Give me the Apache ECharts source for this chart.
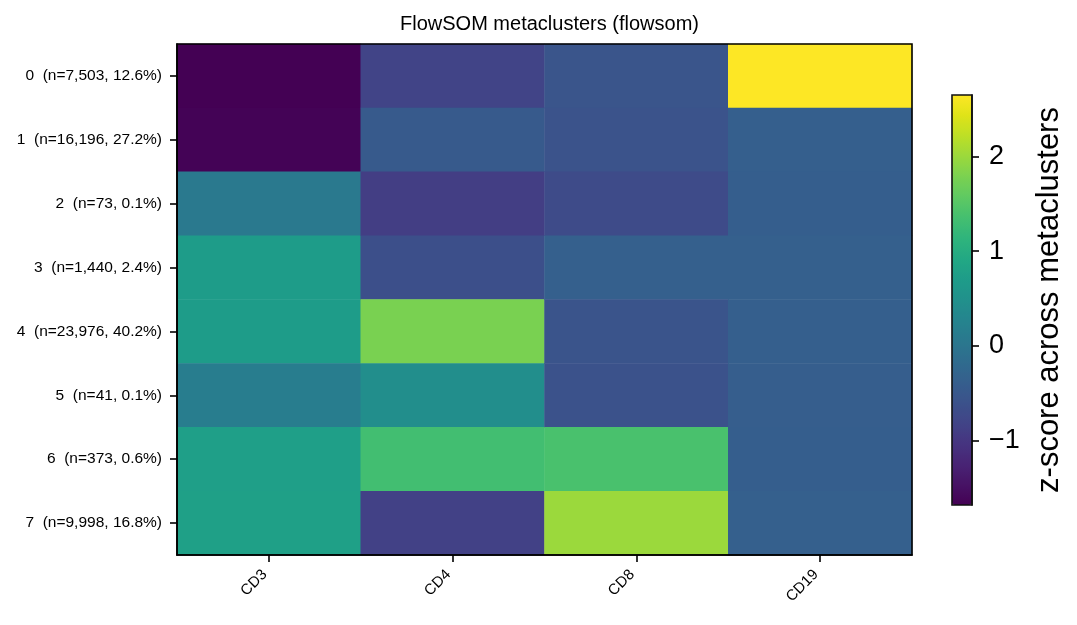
<!DOCTYPE html>
<html>
<head>
<meta charset="utf-8">
<script src="https://cdn.jsdelivr.net/npm/echarts@6/dist/echarts.min.js"></script>
<style>
html,body{margin:0;padding:0;background:#fff;}
#chart{width:1077px;height:625px;}
</style>
</head>
<body>
<div id="chart"></div>
<script>
const titleText = 'FlowSOM metaclusters (flowsom)';
const markers = ['CD3', 'CD4', 'CD8', 'CD19'];
const clusterLabels = [
  '0  (n=7,503, 12.6%)',
  '1  (n=16,196, 27.2%)',
  '2  (n=73, 0.1%)',
  '3  (n=1,440, 2.4%)',
  '4  (n=23,976, 40.2%)',
  '5  (n=41, 0.1%)',
  '6  (n=373, 0.6%)',
  '7  (n=9,998, 16.8%)'
];
const cd3 = [-1.68, -1.66, 0.07, 0.70, 0.71, 0.14, 0.75, 0.77];
const cd4 = [-0.81, -0.47, -0.90, -0.64, 1.78, 0.44, 1.33, -0.86];
const cd8 = [-0.55, -0.58, -0.71, -0.37, -0.56, -0.60, 1.39, 2.00];
const cd19 = [2.65, -0.38, -0.39, -0.37, -0.38, -0.40, -0.39, -0.37];
const colorbarTicks = [-1, 0, 1, 2];
const colorbarName = 'z-score across metaclusters';

const viridis = ['#440154','#471365','#482475','#463480','#414487','#3b528b','#355f8d','#2f6c8e','#2a788e','#25848e','#21918c','#1e9c89','#22a884','#2fb47c','#44bf70','#5ec962','#7ad151','#9bd93c','#bddf26','#dfe318','#fde725'];

const columns = [cd3, cd4, cd8, cd19];
const heatData = [];
columns.forEach((col, xi) => col.forEach((v, yi) => heatData.push([xi, yi, v])));
const all = [].concat(cd3, cd4, cd8, cd19);
const vmin = Math.min(...all);
const vmax = Math.max(...all);

const font = 'Liberation Sans, Arial, sans-serif';
const chart = echarts.init(document.getElementById('chart'), null, {renderer: 'canvas'});
chart.setOption({
  animation: false,
  backgroundColor: '#fff',
  textStyle: {fontFamily: font, color: '#000'},
  title: {
    text: titleText, left: 544.5, top: 9, textAlign: 'center',
    textStyle: {fontFamily: font, fontSize: 20, fontWeight: 'normal', color: '#000'}
  },
  grid: [
    {left: 177, top: 44, width: 735, height: 511, show: true, borderColor: '#000', borderWidth: 1.6, backgroundColor: 'transparent', z: 5},
    {left: 952, top: 95, width: 20, height: 410, show: true, borderColor: '#111', borderWidth: 1.6, backgroundColor: 'transparent', z: 5}
  ],
  xAxis: [
    {type: 'category', gridIndex: 0, data: markers, position: 'bottom',
     axisLine: {show: true, lineStyle: {color: '#000', width: 1.6}},
     axisTick: {show: true, alignWithLabel: true, length: 7, lineStyle: {color: '#000', width: 1.6}},
     axisLabel: {rotate: 45, fontSize: 15, color: '#000', margin: 13, padding: [0, 6, 0, 0], fontFamily: font},
     splitLine: {show: false}, z: 5},
    {type: 'category', gridIndex: 1, data: [''], show: false}
  ],
  yAxis: [
    {type: 'category', gridIndex: 0, data: clusterLabels, inverse: true,
     axisLine: {show: true, lineStyle: {color: '#000', width: 1.6}},
     axisTick: {show: true, alignWithLabel: true, length: 7, lineStyle: {color: '#000', width: 1.6}},
     axisLabel: {fontSize: 15.5, color: '#000', margin: 15, fontFamily: font},
     splitLine: {show: false}, z: 5},
    {type: 'value', gridIndex: 1, min: vmin, max: vmax, position: 'right',
     axisLine: {show: true, lineStyle: {color: '#111', width: 1.6}},
     axisTick: {show: true, length: 7, customValues: colorbarTicks, lineStyle: {color: '#000', width: 1.6}},
     axisLabel: {fontSize: 27, color: '#000', margin: 17, fontFamily: font, customValues: colorbarTicks,
                 formatter: v => String(v).replace('-', '\u2212')},
     splitLine: {show: false},
     name: colorbarName, nameLocation: 'middle', nameRotate: 90, nameGap: 62,
     nameTextStyle: {fontSize: 31, color: '#000', fontFamily: font},
     z: 5}
  ],
  visualMap: {
    type: 'continuous', min: vmin, max: vmax, seriesIndex: 0,
    calculable: false, orient: 'vertical', left: 952, top: 95,
    itemWidth: 20, itemHeight: 410, padding: 0, text: ['', ''], showLabel: false,
    inRange: {color: viridis}, z: 1, hoverLink: false
  },
  series: [{
    type: 'heatmap', xAxisIndex: 0, yAxisIndex: 0, data: heatData,
    itemStyle: {borderWidth: 0},
    emphasis: {disabled: true},
    progressive: 0
  }]
});
</script>
</body>
</html>
